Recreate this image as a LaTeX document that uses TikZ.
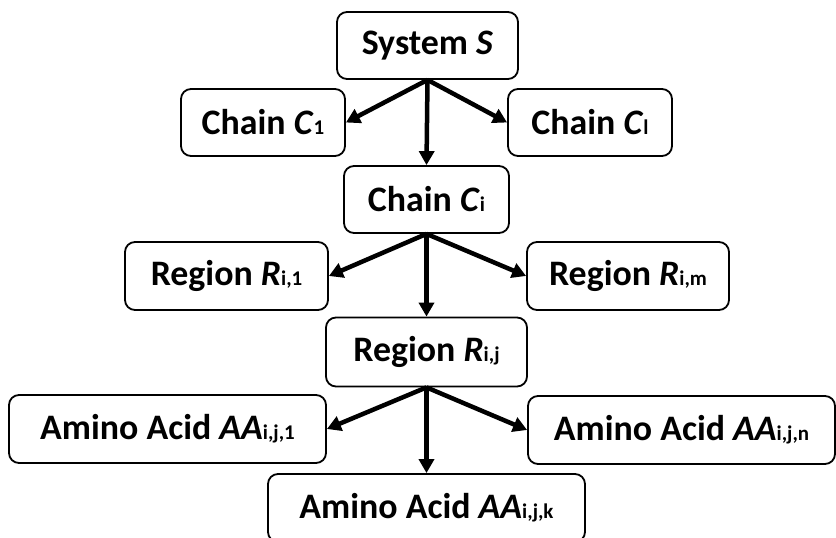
\documentclass[tikz,border=0pt]{standalone}
\usepackage{fontspec}
\setmainfont{Carlito}
\usetikzlibrary{arrows.meta}

% small upright index set on the baseline
\newcommand{\idx}[1]{{\upshape\fontsize{21}{21}\selectfont #1}}

\tikzset{
  levelbox/.style={draw, line width=1.8bp, rounded corners=10bp,
    inner sep=0pt, minimum height=67bp, fill=white,
    font=\fontsize{36}{42}\selectfont\bfseries},
  link/.style={line width=4.5bp,
    -{Triangle[length=14bp,width=15bp]}}
}

\begin{document}
\begin{tikzpicture}[x=1bp,y=-1bp]
  \clip (0,0) rectangle (836,538);

  % hierarchy: system -> chains -> regions -> amino acids
  \node[levelbox, minimum width=181bp] (sys) at (427.5,45.5) {System \textit{S}};

  \node[levelbox, minimum width=164bp] (cfirst) at (263,122.5) {Chain \textit{C}\idx{1}};
  \node[levelbox, minimum width=164bp] (clast)  at (590,122.5) {Chain \textit{C}\idx{l}};
  \node[levelbox, minimum width=165bp] (ci)     at (426.5,199.5) {Chain \textit{C}\idx{i}};

  \node[levelbox, minimum width=203bp, minimum height=68bp] (rfirst) at (226.5,276) {Region \textit{R}\idx{i,1}};
  \node[levelbox, minimum width=202bp, minimum height=68bp] (rlast)  at (628,276)   {Region \textit{R}\idx{i,m}};
  \node[levelbox, minimum width=201bp, minimum height=69bp] (rij)    at (426.5,352) {Region \textit{R}\idx{i,j}};

  \node[levelbox, minimum width=317bp, minimum height=68bp] (afirst) at (167.5,429) {Amino Acid \textit{AA}\idx{i,j,1}};
  \node[levelbox, minimum width=307bp, minimum height=68bp] (alast)  at (681.5,430) {Amino Acid \textit{AA}\idx{i,j,n}};
  \node[levelbox, minimum width=317bp, minimum height=68bp] (aijk)   at (426.5,508) {Amino Acid \textit{AA}\idx{i,j,k}};

  % connectors
  \draw[link] (sys.south) -- (cfirst.east);
  \draw[link] (sys.south) -- (clast.west);
  \draw[link] (sys.south) -- (ci.north);

  \draw[link] (ci.south) -- (rfirst.east);
  \draw[link] (ci.south) -- (rlast.west);
  \draw[link] (ci.south) -- (rij.north);

  \draw[link] (rij.south) -- (afirst.east);
  \draw[link] (rij.south) -- (alast.west);
  \draw[link] (rij.south) -- (aijk.north);
\end{tikzpicture}
\end{document}
